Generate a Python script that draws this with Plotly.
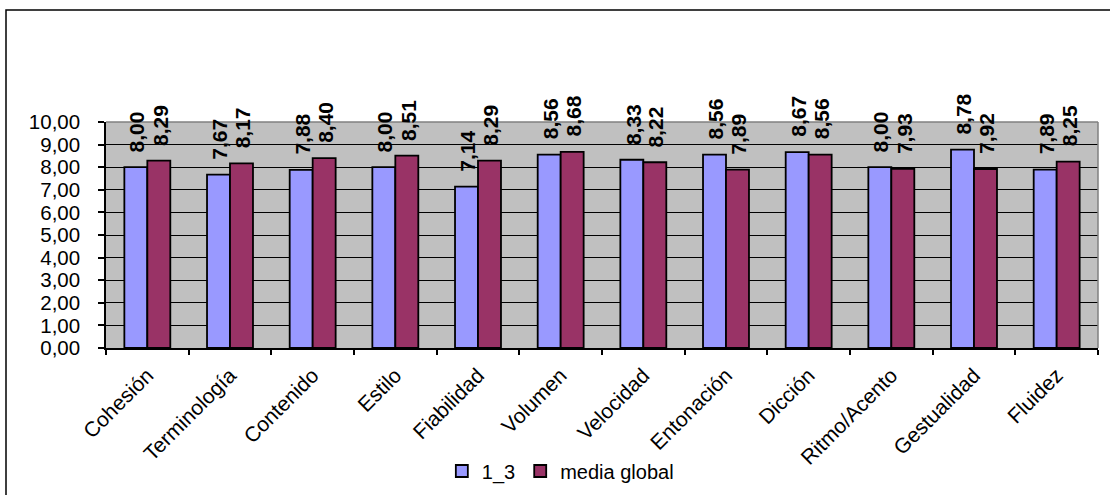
import plotly.graph_objects as go

# Evaluation criteria and scores
categories = ["Cohesión", "Terminología", "Contenido", "Estilo", "Fiabilidad", "Volumen",
              "Velocidad", "Entonación", "Dicción", "Ritmo/Acento", "Gestualidad", "Fluidez"]
group_1_3 = [8.00, 7.67, 7.88, 8.00, 7.14, 8.56, 8.33, 8.56, 8.67, 8.00, 8.78, 7.89]
media_global = [8.29, 8.17, 8.40, 8.51, 8.29, 8.68, 8.22, 7.89, 8.56, 7.93, 7.92, 8.25]
y_ticks = [0, 1, 2, 3, 4, 5, 6, 7, 8, 9, 10]

FONT = "Liberation Sans, Arial, sans-serif"
W, H = 1110, 495
L, R, T, B = 106, 12, 122, 147
PW, PH = W - L - R, H - T - B


def fmt(v):
    return f"{v:.2f}".replace(".", ",")


fig = go.Figure()
fig.add_trace(go.Bar(
    name="1_3", x=categories, y=group_1_3,
    marker=dict(color="#9999FF", line=dict(color="black", width=1.8)),
))
fig.add_trace(go.Bar(
    name="media global", x=categories, y=media_global,
    marker=dict(color="#993366", line=dict(color="black", width=1.8)),
))

# Vertical value labels above each bar
annotations = []
for series, shift in ((group_1_3, -11.5), (media_global, 11.5)):
    for cat, v in zip(categories, series):
        annotations.append(dict(
            x=cat, y=v, xref="x", yref="y", text=f"<b>{fmt(v)}</b>", showarrow=False,
            textangle=-90, xanchor="center", yanchor="bottom",
            xshift=shift + 1, yshift=13,
            font=dict(family=FONT, size=21, color="black"),
        ))

shapes = [
    # grey top and right edges of the plotting area
    dict(type="line", xref="x domain", yref="y domain", x0=0, x1=1, y0=1, y1=1,
         line=dict(color="#808080", width=1.5)),
    dict(type="line", xref="x domain", yref="y domain", x0=1, x1=1, y0=0, y1=1,
         line=dict(color="#808080", width=1.5)),
    # outer chart frame (right and bottom edges fall outside the page)
    dict(type="rect", xref="paper", yref="paper",
         x0=(6 - L) / PW, x1=(W + 30 - L) / PW,
         y0=-(B + 30) / PH, y1=(H - B - 10) / PH,
         line=dict(color="black", width=1.5), fillcolor="rgba(0,0,0,0)", layer="above"),
]

fig.update_layout(
    width=W, height=H,
    margin=dict(l=L, r=R, t=T, b=B, pad=0, autoexpand=False),
    paper_bgcolor="white",
    plot_bgcolor="#C0C0C0",
    barmode="group",
    bargap=0.444,
    bargroupgap=0,
    separators=",.",
    font=dict(family=FONT, size=20, color="black"),
    showlegend=True,
    legend=dict(
        orientation="h", x=0.458, xanchor="center", y=(H - B - 471) / PH, yanchor="middle",
        font=dict(family=FONT, size=20, color="black"),
        bgcolor="rgba(0,0,0,0)", itemwidth=30, tracegroupgap=0,
    ),
    xaxis=dict(
        type="category", tickangle=-45, showgrid=False, automargin=False,
        showline=True, linecolor="black", linewidth=1.5,
        ticks="outside", tickson="boundaries", ticklen=5, tickcolor="black", tickwidth=1.5,
        tickfont=dict(family=FONT, size=21, color="black"),
        ticklabelstandoff=5,
    ),
    yaxis=dict(
        range=[0, 10], tickvals=y_ticks, tickformat=".2f", automargin=False,
        showgrid=True, gridcolor="black", gridwidth=1.2,
        showline=True, linecolor="black", linewidth=1.5,
        ticks="outside", ticklen=6, tickcolor="black", tickwidth=1.5,
        tickfont=dict(family=FONT, size=20.5, color="black"),
        ticklabelstandoff=14,
        zeroline=False,
    ),
    annotations=annotations,
    shapes=shapes,
)

fig.write_html("out.html")
